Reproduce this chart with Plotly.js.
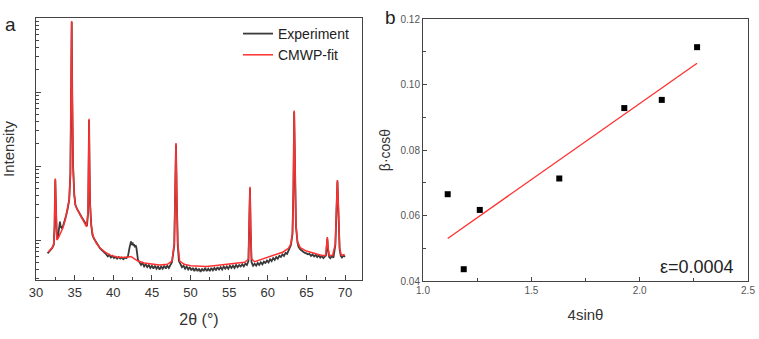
<!DOCTYPE html>
<html><head><meta charset="utf-8">
<script src="https://cdn.plot.ly/plotly-3.0.1.min.js"></script>
<style>html,body{margin:0;padding:0;background:#fff}#chart{width:759px;height:339px}</style>
</head><body><div id="chart"></div>
<script>
// Panel a: XRD pattern (2theta in degrees, intensity in counts, log scale)
const expTheta = [31.5,31.7,31.9,32.1,32.3,32.4,32.45,32.5,32.55,32.6,32.7,32.85,33.0,33.1,33.2,33.35,33.5,33.7,33.9,34.1,34.3,34.45,34.55,34.62,34.7,34.8,34.95,35.1,35.3,35.5,35.7,35.9,36.1,36.3,36.5,36.6,36.75,36.82,36.87,36.93,37.0,37.15,37.3,37.5,37.7,37.9,38.1,38.3,38.5,38.7,38.9,39.1,39.3,39.5,39.7,39.9,40.1,40.3,40.5,40.7,40.9,41.1,41.3,41.5,41.7,41.9,42.1,42.2,42.3,42.4,42.5,42.6,42.7,42.8,42.9,43.0,43.1,43.2,43.4,43.6,43.8,44.0,44.2,44.4,44.6,44.8,45.0,45.2,45.4,45.6,45.8,46.0,46.2,46.4,46.6,46.8,47.0,47.2,47.4,47.6,47.9,48.02,48.12,48.22,48.35,48.5,48.7,48.9,49.1,49.3,49.5,49.7,49.9,50.1,50.3,50.5,50.7,50.9,51.1,51.3,51.5,51.7,51.9,52.1,52.3,52.5,52.7,52.9,53.1,53.3,53.5,53.7,53.9,54.1,54.3,54.5,54.7,54.9,55.1,55.3,55.5,55.7,55.9,56.1,56.3,56.5,56.7,56.9,57.1,57.3,57.5,57.62,57.7,57.78,57.9,58.1,58.3,58.5,58.7,58.9,59.1,59.3,59.5,59.7,59.9,60.1,60.3,60.5,60.7,60.9,61.1,61.3,61.5,61.7,61.9,62.1,62.3,62.5,62.7,62.9,63.0,63.2,63.32,63.42,63.52,63.65,63.85,64.0,64.2,64.4,64.6,64.8,65.0,65.2,65.4,65.6,65.8,66.0,66.2,66.4,66.6,66.8,67.0,67.2,67.4,67.55,67.62,67.71,67.8,67.95,68.1,68.3,68.5,68.75,68.92,69.02,69.12,69.3,69.45,69.6,69.8,70.0];
const expCounts = [66,70,73,78,86,150,380,650,380,150,105,112,140,178,150,145,155,180,215,265,350,780,6000,88000,7500,1000,420,300,265,240,225,205,190,172,160,155,240,950,4200,950,310,160,118,105,96,88,83,77,74,70,67,64,60,63,58,61,57,59,56,59,56,58,55,58,57,60,78,92,96,86,93,84,88,80,85,78,64,54,50,46,49,44,47,43,46,42,45,41,45,41,44,40,44,41,45,41,45,42,46,50,85,380,1950,380,85,52,47,43,45,41,44,40,43,39,42,38,42,38,41,37,41,38,42,38,41,38,42,39,42,39,43,40,43,40,44,41,44,41,45,42,45,42,46,43,46,44,47,44,48,46,52,150,500,150,50,45,48,45,49,46,50,47,51,49,53,50,55,52,57,54,59,56,61,59,64,61,67,65,72,80,86,120,480,5400,780,155,92,80,75,72,68,67,66,64,65,61,64,60,63,59,62,58,61,57,60,62,76,105,76,59,57,61,58,85,300,620,300,76,61,58,62,59];

const fitTheta = [31.6,31.8,32.1,32.3,32.4,32.45,32.5,32.55,32.6,32.7,32.9,33.2,33.5,33.8,34.1,34.3,34.45,34.55,34.62,34.7,34.8,34.95,35.1,35.4,35.7,36.0,36.3,36.55,36.75,36.82,36.87,36.93,37.0,37.15,37.4,37.8,38.3,39.0,39.7,40.5,41.3,42.0,42.3,42.7,43.2,44.0,45.0,46.0,47.0,47.6,47.9,48.02,48.12,48.22,48.35,48.6,49.2,50.0,51.0,52.0,53.0,54.0,55.0,56.0,57.0,57.5,57.62,57.7,57.78,57.9,58.3,59.0,60.0,61.0,62.0,62.7,63.0,63.2,63.32,63.42,63.52,63.65,63.85,64.2,65.0,66.0,67.0,67.5,67.62,67.71,67.8,67.95,68.4,68.75,68.92,69.02,69.12,69.3,69.5,70.0];
const fitCounts = [69,74,79,89,158,398,676,398,158,100,107,123,148,191,263,355,794,6310,91200,7943,1000,398,295,251,219,191,166,151,251,1000,4365,1000,316,158,112,91,78,68,62,59,58,59,60,56,52,49,47,46,47,52,89,398,2042,398,89,52,47,45,44,44,45,46,47,48,50,55,158,525,158,56,51,54,58,63,69,78,89,126,501,5623,794,158,95,79,71,66,62,62,79,110,79,62,62,89,316,646,316,79,63,63];

// Panel b: Williamson-Hall plot
const whX = [1.114,1.188,1.262,1.629,1.929,2.102,2.265];
const whY = [0.0665,0.0436,0.0617,0.0713,0.0928,0.0953,0.1114];
const strainLabel = 'ε=0.0004';

// least-squares line through the points
const n = whX.length;
const mx = whX.reduce((a,b)=>a+b,0)/n, my = whY.reduce((a,b)=>a+b,0)/n;
let sxy=0,sxx=0; for(let i=0;i<n;i++){sxy+=(whX[i]-mx)*(whY[i]-my);sxx+=(whX[i]-mx)**2;}
const slope=sxy/sxx, icpt=my-slope*mx;
const lineX=[Math.min(...whX),Math.max(...whX)];
const lineY=lineX.map(x=>icpt+slope*x);

const F='"Liberation Sans", Arial, sans-serif';
const axCol='#444', txtCol='#333';

const traces = [
 {x:expTheta,y:expCounts,type:'scatter',mode:'lines',name:'Experiment',line:{color:'#3a3a3a',width:1.8},xaxis:'x',yaxis:'y'},
 {x:fitTheta,y:fitCounts,type:'scatter',mode:'lines',name:'CMWP-fit',line:{color:'#ff3030',width:1.5},xaxis:'x',yaxis:'y'},
 {x:whX,y:whY,type:'scatter',mode:'markers',marker:{symbol:'square',size:6,color:'#000'},showlegend:false,xaxis:'x2',yaxis:'y2'},
 {x:lineX,y:lineY,type:'scatter',mode:'lines',line:{color:'#ff3030',width:1.3},showlegend:false,xaxis:'x2',yaxis:'y2'}
];

const layout = {
 width:759,height:339,autosize:false,margin:{l:0,r:0,t:0,b:0},
 paper_bgcolor:'#fff',plot_bgcolor:'#fff',
 font:{family:F,color:txtCol},
 showlegend:true,
 legend:{x:238/759,y:1-18/339,xanchor:'left',yanchor:'top',bgcolor:'rgba(0,0,0,0)',font:{size:14,family:F,color:'#222'},tracegroupgap:0,itemwidth:30},
 xaxis:{domain:[36/759,362/759],range:[30,72.2],anchor:'y',dtick:5,tick0:30,ticks:'inside',ticklen:5,tickcolor:axCol,
   showline:true,linecolor:axCol,linewidth:1,mirror:true,showgrid:false,zeroline:false,
   tickfont:{size:13,color:txtCol},minor:{dtick:2.5,ticks:'inside',ticklen:3,tickcolor:axCol},
   title:{text:'2θ (°)',font:{size:16,color:txtCol},standoff:15}},
 yaxis:{domain:[1-280/339,1-18/339],type:'log',range:[1.46,5.0],anchor:'x',dtick:1,ticks:'inside',ticklen:5,tickcolor:axCol,
   showticklabels:false,showline:true,linecolor:axCol,linewidth:1,mirror:true,showgrid:false,zeroline:false,
   minor:{dtick:'D1',ticks:'inside',ticklen:3,tickcolor:axCol},
   title:{text:'Intensity',font:{size:15,color:txtCol},standoff:16}},
 xaxis2:{domain:[423/759,748/759],range:[1.0,2.5],anchor:'y2',dtick:0.5,tick0:1,tickformat:'.1f',ticks:'inside',ticklen:4,tickcolor:axCol,
   showline:true,linecolor:axCol,linewidth:1,mirror:true,showgrid:false,zeroline:false,
   tickfont:{size:10,color:'#555'},minor:{dtick:0.25,ticks:'inside',ticklen:3,tickcolor:axCol},
   title:{text:'4sinθ',font:{size:15,color:txtCol},standoff:14}},
 yaxis2:{domain:[1-281/339,1-19/339],range:[0.04,0.12],anchor:'x2',dtick:0.02,tick0:0.04,tickformat:'.2f',ticks:'inside',ticklen:4,tickcolor:axCol,
   showline:true,linecolor:axCol,linewidth:1,mirror:true,showgrid:false,zeroline:false,
   tickfont:{size:10,color:'#555'},minor:{dtick:0.01,ticks:'inside',ticklen:3,tickcolor:axCol},
   title:{text:'β·cosθ',font:{size:14,color:txtCol},standoff:6}},
 annotations:[
  {xref:'paper',yref:'paper',x:10/759,y:1-24/339,text:'a',showarrow:false,font:{size:19,color:'#222'},xanchor:'center',yanchor:'middle'},
  {xref:'paper',yref:'paper',x:390/759,y:1-17/339,text:'b',showarrow:false,font:{size:19,color:'#222'},xanchor:'center',yanchor:'middle'},
  {xref:'paper',yref:'paper',x:736/759,y:1-267/339,text:strainLabel,showarrow:false,font:{size:18,color:'#222'},xanchor:'right',yanchor:'middle'}
 ]
};
Plotly.newPlot('chart',traces,layout,{staticPlot:true,displayModeBar:false});
</script></body></html>
